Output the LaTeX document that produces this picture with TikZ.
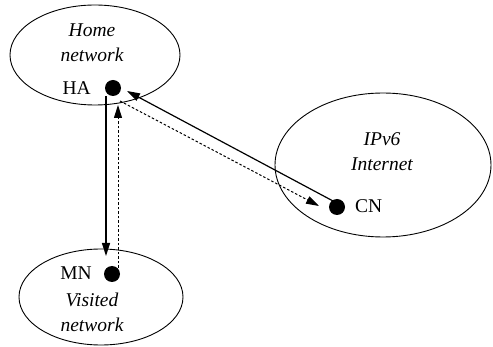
\documentclass[tikz,border=0pt]{standalone}
\usepackage{fontspec}
\setmainfont{Liberation Serif}
\usetikzlibrary{shapes.geometric,arrows.meta}
\begin{document}
\begin{tikzpicture}[x=1pt,y=-1pt,
  region/.style={ellipse,draw,line width=0.9pt,inner sep=0pt},
  host/.style={circle,fill=black,inner sep=0pt,minimum size=16pt},
  tag/.style={font=\fontsize{19.5}{25}\selectfont,inner sep=0pt},
  place/.style={font=\itshape\fontsize{19.5}{25}\selectfont,align=center,inner sep=0pt},
  link/.style={line width=1.2pt,-{Triangle[length=13pt,width=8pt]}},
  tunnel/.style={link,line width=1pt,dash pattern=on 2.5pt off 2pt}]
\useasboundingbox (0,0) rectangle (493,347);

% the three networks
\node[region,minimum width=170pt,minimum height=100pt] (home) at (95,55) {};
\node[region,minimum width=216pt,minimum height=144pt] (inet) at (383,165) {};
\node[region,minimum width=164pt,minimum height=96pt] (visited) at (101,297) {};

\node[place] (hometxt) at (92,43) {Home\\network};
\node[place] (inettxt) at (382,152) {IPv6\\Internet};
\node[place] (vistxt) at (92,312) {Visited\\network};

% hosts
\node[host] (HA) at (113,88) {};
\node[host] (MN) at (112,274) {};
\node[host] (CN) at (337,207) {};

\node[tag,anchor=base east] (HAlbl) at (91,95) {HA};
\node[tag,anchor=base east] (MNlbl) at (92,280) {MN};
\node[tag,anchor=base west] (CNlbl) at (355,213) {CN};

% signalling between the hosts
\draw[link] ([shift={(-7,8)}]HA.center) -- ([shift={(-6,-18)}]MN.center);
\draw[tunnel] ([shift={(6,-6)}]MN.center) -- ([shift={(5,17)}]HA.center);
\draw[link] ([shift={(-4,-6)}]CN.center) -- ([shift={(14,3)}]HA.center);
\draw[tunnel] ([shift={(7,13)}]HA.center) -- ([shift={(-18,-1)}]CN.center);
\end{tikzpicture}
\end{document}
